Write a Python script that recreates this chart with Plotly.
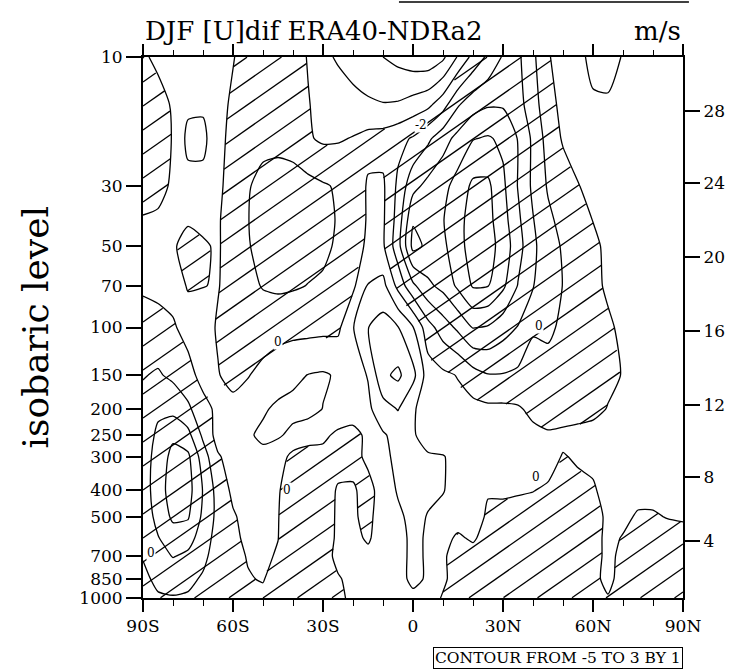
import numpy as np
import plotly.graph_objects as go

# ---------------- data ----------------
lats = list(range(-90, 95, 5))
levels = [10, 15, 20, 30, 40, 50, 70, 100, 150, 200, 250, 300, 400, 500, 600, 700, 850, 1000]

u_10 = [-0.2, 0.3, 0.5, 0.6, 0.6, 0.3, 0.05, -0.4, -0.6, -0.6, -0.4, 0.05, 0.8, 1.1, 1.4, 1.7, 2.0, 2.3, 2.6, 2.7, 2.2, 0.9, -0.3, -1.2, -2.1, -2.2, -1.2, -0.1, 0.5, 0.8, 1.2, 1.3, 0.95, 0.8, 0.7, 0.6, 0.6]
u_15 = [-0.8, -0.5, 0.15, 0.8, 0.85, 0.3, -0.15, -0.6, -0.75, -0.75, -0.6, -0.05, 0.3, 0.55, 0.7, 0.85, 0.95, 0.9, 0.6, 0.25, -0.6, -1.9, -2.6, -2.9, -2.9, -2.4, -1.4, -0.4, 0.3, 0.6, 0.9, 0.9, 0.8, 0.6, 0.5, 0.5, 0.5]
u_20 = [-0.95, -0.8, 0.1, 1.25, 1.25, 0.3, -0.3, -0.7, -0.8, -0.8, -0.65, -0.1, 0.15, 0.1, -0.05, -0.3, -0.4, -0.7, -1.1, -1.8, -2.6, -3.3, -3.95, -4.1, -3.8, -2.95, -1.8, -0.6, 0.1, 0.5, 0.7, 0.7, 0.6, 0.5, 0.4, 0.4, 0.4]
u_30 = [-0.6, -0.4, 0.2, 0.7, 0.7, 0.2, -0.4, -0.95, -1.2, -1.3, -1.35, -1.3, -1.1, -0.9, -0.6, 0.1, 0.15, -1.2, -2.7, -3.3, -3.7, -4.4, -5.2, -5.2, -4.2, -2.95, -1.8, -0.9, -0.45, -0.05, 0.35, 0.45, 0.5, 0.4, 0.35, 0.3, 0.3]
u_40 = [0.1, 0.2, 0.3, 0.1, 0.2, 0.1, -0.5, -0.98, -1.3, -1.4, -1.4, -1.35, -1.2, -0.95, -0.6, 0.1, 0.15, -1.4, -3.9, -3.8, -3.95, -4.7, -5.4, -5.3, -4.4, -3.2, -2.05, -1.2, -0.7, -0.35, 0.02, 0.4, 0.45, 0.4, 0.35, 0.3, 0.3]
u_50 = [0.3, 0.3, 0.1, -0.3, -0.1, 0.1, -0.5, -0.95, -1.25, -1.35, -1.4, -1.3, -1.15, -0.9, -0.5, 0.2, 0.15, -1.6, -4.3, -3.8, -3.8, -4.6, -5.5, -5.4, -4.6, -3.4, -2.2, -1.4, -0.9, -0.5, -0.2, 0.2, 0.45, 0.4, 0.35, 0.3, 0.3]
u_70 = [0.2, 0.3, 0.3, -0.05, -0.02, 0.05, -0.4, -0.8, -1.05, -1.15, -1.1, -0.98, -0.9, -0.7, -0.2, 1.05, 1.3, -0.3, -1.8, -2.8, -3.3, -4.2, -5.1, -5.05, -4.2, -2.95, -2.05, -1.4, -0.98, -0.6, -0.25, 0.15, 0.4, 0.35, 0.3, 0.3, 0.3]
u_100 = [-0.6, -0.4, -0.1, 0.3, 0.4, -0.1, -0.4, -0.6, -0.55, -0.4, -0.3, -0.3, -0.25, -0.2, 0.95, 1.98, 2.4, 2.05, 1.05, -0.6, -1.5, -2.2, -3.05, -2.9, -2.4, -1.95, -1.2, -1.1, -0.9, -0.6, -0.4, -0.15, 0.2, 0.35, 0.3, 0.3, 0.3]
u_150 = [-0.95, -1.1, -0.8, -0.3, 0.3, 0.05, -0.3, -0.05, 0.3, 0.6, 0.8, 1.02, 1.1, 0.9, 0.6, 1.05, 2.8, 3.2, 2.3, 0.5, 0.2, -0.05, -0.6, -0.95, -0.95, -0.8, -0.2, -0.8, -0.9, -0.7, -0.5, -0.25, 0.05, 0.3, 0.3, 0.3, 0.3]
u_200 = [-1.3, -1.8, -1.7, -1.2, -0.3, 0.2, 0.3, 0.5, 0.9, 1.15, 1.25, 1.3, 0.98, 0.7, 0.5, 0.8, 1.6, 2.05, 1.1, 0.6, 0.5, 0.3, 0.3, 0.2, 0.2, 0.1, -0.2, -0.4, -0.45, -0.4, -0.3, 0.05, 0.3, 0.35, 0.3, 0.3, 0.3]
u_250 = [-1.4, -2.2, -2.8, -2.3, -0.8, 0.4, 0.6, 0.9, 1.15, 1.1, 0.8, 0.5, 0.2, -0.2, -0.3, 0.2, 0.9, 1.3, 1.1, 0.6, 0.4, 0.3, 0.3, 0.3, 0.3, 0.3, 0.2, 0.1, 0.2, 0.3, 0.4, 0.4, 0.4, 0.4, 0.35, 0.3, 0.3]
u_300 = [-1.5, -2.4, -3.3, -3.2, -1.5, -0.1, 0.4, 0.6, 0.8, 0.5, -0.3, -0.5, -0.3, -0.4, -0.3, 0.2, 0.8, 1.2, 1.3, 1.1, 1.05, 0.7, 0.5, 0.4, 0.4, 0.4, 0.3, 0.3, -0.05, 0.1, 0.2, 0.4, 0.5, 0.5, 0.45, 0.4, 0.4]
u_400 = [-1.5, -2.5, -3.5, -3.4, -1.95, -0.6, 0.2, 0.5, 0.4, 0.1, -0.6, -0.8, -0.5, 0.1, 0.1, -0.3, 0.4, 1.1, 1.3, 1.2, 1.05, 0.6, 0.4, 0.05, 0.1, 0.05, 0.02, -0.1, -0.2, -0.2, -0.1, 0.3, 0.4, 0.3, 0.3, 0.3, 0.3]
u_500 = [-1.4, -2.3, -3.2, -3.1, -1.8, -0.7, -0.1, 0.3, 0.3, 0.05, -0.8, -0.9, -0.7, 0.2, 0.1, -0.2, 0.4, 0.8, 1.3, 0.95, 0.7, 0.3, 0.3, -0.1, -0.2, -0.2, -0.3, -0.3, -0.4, -0.3, -0.3, 0.15, 0.2, -0.1, -0.1, 0.05, 0.1]
u_600 = [-1.2, -1.95, -2.5, -2.4, -1.5, -0.6, -0.2, 0.2, 0.3, 0.02, -0.8, -0.9, -0.6, 0.2, 0.2, -0.1, 0.4, 0.7, 1.2, 0.9, 0.2, -0.1, 0.1, -0.3, -0.4, -0.5, -0.5, -0.5, -0.5, -0.4, -0.3, 0.2, -0.05, -0.3, -0.4, -0.4, -0.3]
u_700 = [-1.05, -1.6, -2.05, -1.8, -1.2, -0.6, -0.25, 0.05, 0.2, -0.1, -0.8, -0.9, -0.5, 0.3, 0.3, 0.2, 0.4, 0.7, 1.2, 0.9, 0.1, -0.3, -0.3, -0.5, -0.6, -0.7, -0.7, -0.6, -0.6, -0.4, -0.3, 0.2, -0.2, -0.5, -0.6, -0.6, -0.6]
u_850 = [-0.8, -1.2, -1.3, -1.2, -0.9, -0.5, -0.3, -0.05, 0.05, -0.4, -0.7, -0.8, -0.5, -0.1, 0.3, 0.3, 0.4, 0.7, 1.2, 0.9, 0.2, -0.5, -0.6, -0.7, -0.8, -0.8, -0.8, -0.7, -0.7, -0.5, -0.2, 0.2, -0.3, -0.6, -0.7, -0.7, -0.7]
u_1000 = [-0.6, -0.9, -0.95, -0.9, -0.8, -0.5, -0.3, -0.1, -0.2, -0.5, -0.6, -0.7, -0.5, -0.2, 0.2, 0.4, 0.4, 0.6, 0.8, 0.5, -0.1, -0.6, -0.8, -0.8, -0.9, -0.9, -0.9, -0.8, -0.8, -0.6, -0.3, -0.05, -0.4, -0.7, -0.8, -0.8, -0.9]

udif = np.array([u_10, u_15, u_20, u_30, u_40, u_50, u_70, u_100, u_150, u_200,
                 u_250, u_300, u_400, u_500, u_600, u_700, u_850, u_1000], dtype=float)

contour_start, contour_end, contour_step = -5, 3, 1

p_tickvals = [10, 30, 50, 70, 100, 150, 200, 250, 300, 400, 500, 700, 850, 1000]
p_ticktext = [str(v) for v in p_tickvals]
lat_tickvals = [-90, -60, -30, 0, 30, 60, 90]
lat_ticktext = ["90S", "60S", "30S", "0", "30N", "60N", "90N"]
height_km = [4, 8, 12, 16, 20, 24, 28]


def std_atm_pressure(z_km):
    """US standard atmosphere pressure (hPa) at geometric height z (km)."""
    z = z_km * 1000.0
    if z <= 11000:
        return 1013.25 * (1 - 0.0065 * z / 288.15) ** 5.25588
    if z <= 20000:
        return 226.321 * np.exp(-(z - 11000) / 6341.62)
    return 54.7489 * (1 + 0.001 * (z - 20000) / 216.65) ** (-34.1632)


height_tickvals = [std_atm_pressure(h) for h in height_km]
height_ticktext = [str(h) for h in height_km]

# ---------------- hatching of negative values ----------------
lat_arr = np.array(lats, dtype=float)
lev_arr = np.array(levels, dtype=float)


def field_at(lat, p):
    fi = np.clip((lat - lat_arr[0]) / 5.0, 0, len(lat_arr) - 1 - 1e-9)
    i0 = np.floor(fi).astype(int)
    tx = fi - i0
    j0 = np.clip(np.searchsorted(lev_arr, p, side="right") - 1, 0, len(lev_arr) - 2)
    ty = np.clip((p - lev_arr[j0]) / (lev_arr[j0 + 1] - lev_arr[j0]), 0, 1)
    z00 = udif[j0, i0]
    z01 = udif[j0, i0 + 1]
    z10 = udif[j0 + 1, i0]
    z11 = udif[j0 + 1, i0 + 1]
    return (1 - tx) * (1 - ty) * z00 + tx * (1 - ty) * z01 + (1 - tx) * ty * z10 + tx * ty * z11


W, H = 540.0, 541.0          # plot-area size in px
slope, gap = 0.7, 24.0        # hatch direction and vertical spacing (px)
hx, hy = [], []
for c in np.arange(-slope * W + 6, H, gap):
    u = np.arange(0, W + 0.25, 0.5)
    v = c + slope * u
    m = (v >= 0) & (v <= H)
    if m.sum() < 2:
        continue
    u, v = u[m], v[m]
    la = -90 + 180 * u / W
    pp = 10 ** (3 - 2 * v / H)
    zz = field_at(la, pp)
    neg = (zz < 0).astype(int)
    edges = np.flatnonzero(np.diff(np.concatenate([[0], neg, [0]])))
    for s, e in zip(edges[0::2], edges[1::2] - 1):
        if s > 0:
            f = zz[s - 1] / (zz[s - 1] - zz[s])
            ls, vs = la[s - 1] + f * (la[s] - la[s - 1]), v[s - 1] + f * (v[s] - v[s - 1])
        else:
            ls, vs = la[s], v[s]
        if e < len(zz) - 1:
            f = zz[e] / (zz[e] - zz[e + 1])
            le, ve = la[e] + f * (la[e + 1] - la[e]), v[e] + f * (v[e + 1] - v[e])
        else:
            le, ve = la[e], v[e]
        hx += [ls, le, None]
        hy += [10 ** (3 - 2 * vs / H), 10 ** (3 - 2 * ve / H), None]

FONT = "DejaVu Serif"

fig = go.Figure()
fig.add_trace(go.Scatter(x=hx, y=hy, mode="lines", line=dict(color="black", width=1.3),
                         hoverinfo="skip", showlegend=False, connectgaps=False))
fig.add_trace(go.Contour(
    x=lats, y=levels, z=udif,
    autocontour=False,
    contours=dict(start=contour_start, end=contour_end, size=contour_step, coloring="lines"),
    colorscale=[[0, "black"], [1, "black"]],
    line=dict(width=1.3, smoothing=0.6),
    showscale=False, hoverinfo="skip"))
# carriers for the right (height) axis and the top (latitude) axis
fig.add_trace(go.Scatter(x=[0], y=[100], yaxis="y2", mode="markers",
                         marker=dict(opacity=0), hoverinfo="skip", showlegend=False))
fig.add_trace(go.Scatter(x=[0], y=[100], xaxis="x2", mode="markers",
                         marker=dict(opacity=0), hoverinfo="skip", showlegend=False))

# sparse contour labels (like the original)
labels = [("0", -45, 113), ("0", 42, 99), ("0", -42, 400), ("0", 41, 357),
          ("-2", 2.5, 17.8), ("0", -87.5, 680)]
annotations = []
for txt, la, pv in labels:
    annotations.append(dict(x=la, y=np.log10(pv), xref="x", yref="y", text=txt,
                            showarrow=False, font=dict(family=FONT, size=12, color="rgb(0,0,0)"),
                            bgcolor="white", borderpad=0))

annotations += [
    dict(x=0, y=1, xref="paper", yref="paper", xanchor="left", yanchor="bottom", yshift=9,
         text="DJF [U]dif ERA40-NDRa2", showarrow=False,
         font=dict(family=FONT, size=26, color="black")),
    dict(x=1, y=1, xref="paper", yref="paper", xanchor="right", yanchor="bottom", yshift=9,
         text="m/s", showarrow=False, font=dict(family=FONT, size=26, color="black")),
    dict(x=-0.2, y=0.5, xref="paper", yref="paper", xanchor="center", yanchor="middle",
         text="isobaric level", textangle=-90, showarrow=False,
         font=dict(family=FONT, size=36, color="black")),
    dict(x=1, y=-0.111, xref="paper", yref="paper", xanchor="right", yanchor="middle",
         text="CONTOUR FROM -5 TO 3 BY 1", showarrow=False,
         font=dict(family=FONT, size=15.5, color="black"),
         bordercolor="black", borderwidth=1, borderpad=1, bgcolor="white"),
]

axis_font = dict(family=FONT, size=17, color="black")
fig.update_layout(
    width=741, height=671,
    margin=dict(l=143, r=58, t=57, b=73),
    paper_bgcolor="white", plot_bgcolor="white",
    showlegend=False,
    annotations=annotations,
    shapes=[dict(type="line", xref="paper", yref="paper", x0=0.474, x1=1.011, y0=1.1017, y1=1.1017,
                 line=dict(color="black", width=1.5))],
    xaxis=dict(range=[-90, 90], tickvals=lat_tickvals, ticktext=lat_ticktext,
               ticks="outside", ticklen=12, tickwidth=1.5, tickcolor="black",
               showline=True, linewidth=2, linecolor="black", mirror=True,
               showgrid=False, zeroline=False, tickfont=axis_font,
               minor=dict(dtick=10, tick0=-90, ticks="outside", ticklen=6, tickwidth=1.2,
                          tickcolor="black", showgrid=False)),
    xaxis2=dict(range=[-90, 90], overlaying="x", side="top", anchor="y",
                tickvals=lat_tickvals, ticktext=[""] * len(lat_tickvals),
                ticks="outside", ticklen=12, tickwidth=1.5, tickcolor="black",
                showline=False, showgrid=False, zeroline=False,
                minor=dict(dtick=10, tick0=-90, ticks="outside", ticklen=6, tickwidth=1.2,
                           tickcolor="black", showgrid=False)),
    yaxis=dict(type="log", range=[3, 1], tickvals=p_tickvals, ticktext=p_ticktext,
               ticks="outside", ticklen=15, tickwidth=1.5, tickcolor="black",
               showline=True, linewidth=2, linecolor="black", mirror=True,
               showgrid=False, zeroline=False, tickfont=axis_font),
    yaxis2=dict(type="log", range=[3, 1], overlaying="y", side="right",
                tickvals=height_tickvals, ticktext=height_ticktext,
                ticks="outside", ticklen=15, tickwidth=1.5, tickcolor="black",
                showline=True, linewidth=2, linecolor="black",
                showgrid=False, zeroline=False, tickfont=axis_font),
)

fig.write_html("out.html")
